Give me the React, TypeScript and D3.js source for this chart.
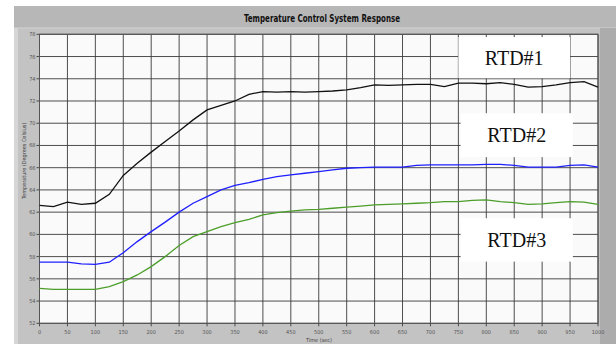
import React from 'react';
import * as d3 from 'd3';

const times = [
    0, 25, 50, 75, 100, 125, 150, 175, 200, 225, 250, 275, 300, 325, 350, 375,
    400, 425, 450, 475, 500, 525, 550, 575, 600, 625, 650, 675, 700, 725, 750,
    775, 800, 825, 850, 875, 900, 925, 950, 975, 1000,
];
const rtd1 = [
    62.6, 62.5, 62.9, 62.7, 62.8, 63.6, 65.3, 66.4, 67.4, 68.35, 69.3, 70.3,
    71.2, 71.6, 72.0, 72.6, 72.85, 72.8, 72.85, 72.8, 72.85, 72.9, 73.0, 73.2,
    73.45, 73.4, 73.45, 73.5, 73.5, 73.3, 73.6, 73.6, 73.55, 73.65, 73.5,
    73.25, 73.3, 73.45, 73.65, 73.75, 73.25,
];
const rtd2 = [
    57.5, 57.5, 57.5, 57.35, 57.3, 57.5, 58.35, 59.35, 60.25, 61.1, 62.0, 62.8,
    63.4, 64.0, 64.4, 64.65, 64.95, 65.2, 65.35, 65.5, 65.65, 65.8, 65.95, 66.0,
    66.05, 66.05, 66.05, 66.2, 66.25, 66.25, 66.25, 66.25, 66.3, 66.3, 66.2,
    66.05, 66.05, 66.05, 66.2, 66.25, 66.05,
];
const rtd3 = [
    55.15, 55.05, 55.05, 55.05, 55.05, 55.3, 55.75, 56.35, 57.1, 58.0, 59.0,
    59.8, 60.25, 60.7, 61.05, 61.35, 61.75, 61.95, 62.1, 62.2, 62.25, 62.35,
    62.45, 62.55, 62.65, 62.7, 62.75, 62.8, 62.85, 62.95, 62.95, 63.05, 63.1,
    62.95, 62.85, 62.7, 62.75, 62.85, 62.95, 62.9, 62.7,
];
const seriesNames = ['RTD#1', 'RTD#2', 'RTD#3'];
const seriesColors = ['#111111', '#1f1fff', '#4c9e2a'];
const xTicks = d3.range(0, 1001, 50);
const yTicks = d3.range(52, 79, 2);

const W = 616;
const H = 344;
const plot = { left: 39.5, right: 598, top: 34.3, bottom: 323.3 };

const App: React.FC = () => {
    const x = d3.scaleLinear().domain([0, 1000]).range([plot.left, plot.right]);
    const y = d3.scaleLinear().domain([52, 78]).range([plot.bottom, plot.top]);

    const line = d3
        .line<number>()
        .x((_, i) => x(times[i]))
        .y((d) => y(d));

    const series = [rtd1, rtd2, rtd3];

    // label boxes, placed in value space so they follow the scales
    const boxes = [
        { name: seriesNames[0], t0: 750, t1: 950, top: 77.75, bottom: 74.05 },
        { name: seriesNames[1], t0: 754, t1: 955, top: 70.9, bottom: 66.95 },
        { name: seriesNames[2], t0: 754, t1: 955, top: 61.45, bottom: 57.55 },
    ];

    return (
        <div style={{ position: 'fixed', left: 0, top: 0 }}>
            <svg width={W} height={H} viewBox={`0 0 ${W} ${H}`}>
                <rect x={0} y={0} width={W} height={H} fill="#ffffff" />
                {/* panel */}
                <rect x={14} y={6} width={W - 14} height={H - 6} fill="#c3c3c3" />
                <rect x={14} y={6} width={4} height={H - 6} fill="#d6d6d6" />
                <rect x={14} y={6} width={W - 14} height={22} fill="#b7b7b7" />
                <line x1={14} x2={W} y1={28} y2={28} stroke="#d2d2d2" />
                <rect x={600} y={28} width={16} height={H - 28} fill="#acacac" />
                <text
                    x={322}
                    y={21.5}
                    textAnchor="middle"
                    fontFamily="'DejaVu Sans Condensed', 'DejaVu Sans', sans-serif"
                    fontWeight="bold"
                    fontSize={10.5}
                    textLength={156}
                    lengthAdjust="spacingAndGlyphs"
                    fill="#111"
                >
                    Temperature Control System Response
                </text>

                {/* plot area */}
                <rect
                    x={plot.left}
                    y={plot.top}
                    width={plot.right - plot.left}
                    height={plot.bottom - plot.top}
                    fill="#fafafa"
                />
                {yTicks.map((t) => (
                    <g key={'y' + t}>
                        <line
                            x1={plot.left - 3}
                            x2={plot.right}
                            y1={y(t)}
                            y2={y(t)}
                            stroke="#3a3a3a"
                            strokeWidth={0.9}
                        />
                        <text
                            x={plot.left - 4}
                            y={y(t) + 2}
                            textAnchor="end"
                            fontFamily="'DejaVu Sans Condensed', sans-serif"
                            fontSize={5.5}
                            fill="#555"
                        >
                            {t}
                        </text>
                    </g>
                ))}
                {xTicks.map((t) => (
                    <g key={'x' + t}>
                        <line
                            x1={x(t)}
                            x2={x(t)}
                            y1={plot.top}
                            y2={plot.bottom + 3}
                            stroke="#3a3a3a"
                            strokeWidth={0.9}
                        />
                        <text
                            x={x(t)}
                            y={plot.bottom + 10.5}
                            textAnchor="middle"
                            fontFamily="'DejaVu Sans Condensed', sans-serif"
                            fontSize={5.5}
                            fill="#555"
                        >
                            {t}
                        </text>
                    </g>
                ))}
                <rect
                    x={plot.left}
                    y={plot.top}
                    width={plot.right - plot.left}
                    height={plot.bottom - plot.top}
                    fill="none"
                    stroke="#555"
                    strokeWidth={1}
                />
                <text
                    x={319}
                    y={342}
                    textAnchor="middle"
                    fontFamily="'DejaVu Sans Condensed', sans-serif"
                    fontSize={5.5}
                    fill="#444"
                >
                    Time (sec)
                </text>
                <text
                    transform={`translate(26,${(plot.top + plot.bottom) / 2 - 18}) rotate(-90)`}
                    textAnchor="middle"
                    fontFamily="'DejaVu Sans Condensed', sans-serif"
                    fontSize={5.5}
                    fill="#444"
                >
                    Temperature (Degrees Celsius)
                </text>

                {series.map((s, i) => (
                    <path
                        key={seriesNames[i]}
                        d={line(s) || ''}
                        fill="none"
                        stroke={seriesColors[i]}
                        strokeWidth={1.3}
                    />
                ))}

                {boxes.map((b) => (
                    <g key={b.name}>
                        <rect
                            x={x(b.t0)}
                            y={y(b.top)}
                            width={x(b.t1) - x(b.t0)}
                            height={y(b.bottom) - y(b.top)}
                            fill="#ffffff"
                        />
                        <text
                            x={(x(b.t0) + x(b.t1)) / 2}
                            y={(y(b.top) + y(b.bottom)) / 2 + 7}
                            textAnchor="middle"
                            fontFamily="'Liberation Serif', 'Times New Roman', serif"
                            fontSize={20}
                            fill="#111"
                        >
                            {b.name}
                        </text>
                    </g>
                ))}
            </svg>
        </div>
    );
};

export default App;
